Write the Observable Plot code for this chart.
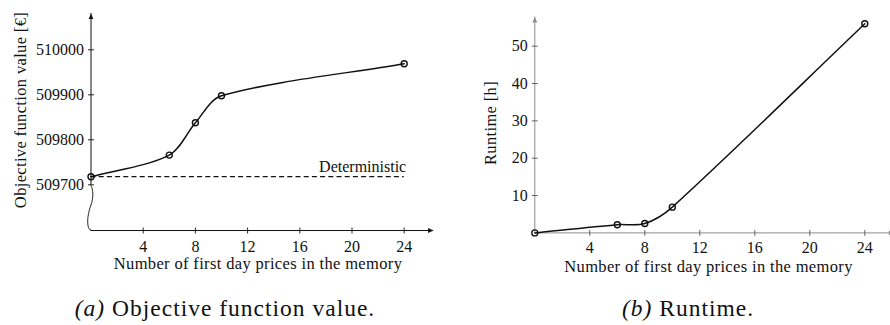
<!DOCTYPE html>
<html>
<head>
<meta charset="utf-8">
<script src="https://cdn.jsdelivr.net/npm/d3@7"></script>
<script src="https://cdn.jsdelivr.net/npm/@observablehq/plot@0.6"></script>
<style>
  html, body { margin: 0; padding: 0; background: #fff; }
  #fig { position: relative; width: 890px; height: 325px; overflow: hidden; font-family: "Liberation Serif", serif; color: #111; }
  #fig svg { position: absolute; top: 0; font-family: "Liberation Serif", serif !important; }
  #fig svg text { font-family: "Liberation Serif", serif !important; }
  .cap { position: absolute; top: 295px; font-size: 23.5px; letter-spacing: 1px; white-space: nowrap; transform: translateX(-50%); }
  .cap i { font-style: italic; }
</style>
</head>
<body>
<div id="fig"></div>
<script>
// Number of first-day prices kept in memory
const memory = [0, 6, 8, 10, 24];
// Objective function value [€] per memory size
const objective = [509718, 509766, 509838, 509898, 509969];
// Objective value of the deterministic model
const deterministic = 509718;
// Runtime [h] per memory size
const runtime = [0, 2.2, 2.5, 6.9, 56.0];

const xTicks = [4, 8, 12, 16, 20, 24];
const objTicks = [509700, 509800, 509900, 510000];
const runTicks = [10, 20, 30, 40, 50];

const xLabel = "Number of first day prices in the memory";
const objLabel = "Objective function value [€]";
const runLabel = "Runtime [h]";
const detLabel = "Deterministic";

const FONT = "Liberation Serif";
const txt = {fontSize: 16, fill: "#111", fontFamily: FONT};
const lbl = {fontSize: 16.5, fill: "#111", fontFamily: FONT, textAnchor: "middle", lineAnchor: "middle"};

// Smooth curve: tangent at each point parallel to its neighbours' chord,
// control handles proportional to the length of the adjacent segment
function smoothCurve(k = 0.3) {
  return (context) => {
    let pts = [];
    return {
      areaStart() {}, areaEnd() {},
      lineStart() { pts = []; },
      point(x, y) { pts.push([+x, +y]); },
      lineEnd() {
        const n = pts.length;
        if (!n) return;
        context.moveTo(pts[0][0], pts[0][1]);
        const dir = (i) => {
          const a = pts[Math.max(0, i - 1)], b = pts[Math.min(n - 1, i + 1)];
          const dx = b[0] - a[0], dy = b[1] - a[1], L = Math.hypot(dx, dy) || 1;
          return [dx / L, dy / L];
        };
        for (let i = 0; i < n - 1; i++) {
          const p = pts[i], q = pts[i + 1];
          const L = Math.hypot(q[0] - p[0], q[1] - p[1]);
          const d0 = dir(i), d1 = dir(i + 1);
          context.bezierCurveTo(
            p[0] + d0[0] * k * L, p[1] + d0[1] * k * L,
            q[0] - d1[0] * k * L, q[1] - d1[1] * k * L,
            q[0], q[1]);
        }
      }
    };
  };
}

// Custom symbols: axis ticks crossing the axis line and filled arrow heads
const tickV = {draw(ctx) { ctx.moveTo(0, -3); ctx.lineTo(0, 3); }};
const tickH = {draw(ctx) { ctx.moveTo(-3, 0); ctx.lineTo(3, 0); }};
const head = {draw(ctx) { ctx.moveTo(0, 0); ctx.lineTo(2.4, 5.5); ctx.lineTo(-2.4, 5.5); ctx.closePath(); }};

// Wavy axis break drawn between two y values on the y axis
function axisBreak(yFrom, yTo, color) {
  return (index, scales) => {
    const X = scales.x(0), a = scales.y(yFrom), b = scales.y(yTo);
    const h = b - a;
    const p = d3.path();
    p.moveTo(X, a);
    p.bezierCurveTo(X + 3, a + h * 0.12, X + 3, a + h * 0.3, X + 0.5, a + h * 0.45);
    p.bezierCurveTo(X - 2, a + h * 0.6, X - 4, a + h * 0.8, X - 2, a + h * 0.95);
    p.quadraticCurveTo(X - 1, b, X + 0.5, b);
    return d3.create("svg:path")
      .attr("d", p.toString())
      .attr("fill", "none")
      .attr("stroke", color)
      .attr("stroke-width", 0.9)
      .node();
  };
}

function axes({yBase, yTop, xEnd, yTicks, axisColor, tickColor, breakFrom}) {
  const marks = [];
  // x axis line with arrow
  marks.push(Plot.ruleY([yBase], {x1: 0, x2: xEnd, stroke: axisColor, strokeWidth: 1}));
  marks.push(Plot.dot([xEnd], {x: d => d, y: yBase, symbol: head, rotate: 90, fill: axisColor, stroke: "none"}));
  // y axis line with arrow
  marks.push(Plot.ruleX([0], {y1: breakFrom ?? yBase, y2: yTop, stroke: axisColor, strokeWidth: 1}));
  marks.push(Plot.dot([yTop], {x: 0, y: d => d, symbol: head, fill: axisColor, stroke: "none"}));
  if (breakFrom != null) marks.push(axisBreak(breakFrom, yBase, axisColor));
  // ticks
  marks.push(Plot.dot(xTicks, {x: d => d, y: yBase, symbol: tickV, stroke: tickColor, strokeWidth: 0.9, fill: "none"}));
  marks.push(Plot.dot(yTicks, {x: 0, y: d => d, symbol: tickH, stroke: tickColor, strokeWidth: 0.9, fill: "none"}));
  return marks;
}

// (a) Objective function value
const objPlot = Plot.plot({
  width: 445,
  height: 285,
  marginLeft: 90, marginRight: 12, marginTop: 13, marginBottom: 55,
  style: {fontFamily: FONT, background: "transparent"},
  x: {domain: [0, 24], range: [90.5, 403.7], axis: null},
  y: {domain: [509700, 510000], range: [184.3, 49.3], axis: null},
  marks: [
    ...axes({yBase: 509598.4, yTop: 510080.7, xEnd: 26.25, yTicks: objTicks, axisColor: "#111", tickColor: "#111", breakFrom: 509700}),
    Plot.text(objTicks, {x: 0, y: d => d, text: d => String(d), textAnchor: "end", dx: -7, ...txt}),
    Plot.text(xTicks, {x: d => d, y: 509598.4, text: d => String(d), dy: 16, ...txt}),
    Plot.text([xLabel], {frameAnchor: "bottom", dx: -4, dy: 33, ...lbl}),
    Plot.text([objLabel], {frameAnchor: "left", rotate: -90, dx: -70, dy: -12, ...lbl}),
    Plot.ruleY([deterministic], {x1: 0, x2: 24, stroke: "#111", strokeWidth: 1.3, strokeDasharray: "5,3.2"}),
    Plot.text([detLabel], {x: 24, y: deterministic, text: d => d, textAnchor: "end", dx: 2, dy: -10, ...txt}),
    Plot.line(memory, {x: d => d, y: (d, i) => objective[i], curve: smoothCurve(0.3), stroke: "#111", strokeWidth: 1.5}),
    Plot.dot(memory, {x: d => d, y: (d, i) => objective[i], r: 3, stroke: "#111", strokeWidth: 1.4, fill: "none"})
  ]
});

// (b) Runtime
const runPlot = Plot.plot({
  width: 445,
  height: 285,
  marginLeft: 89, marginRight: 0, marginTop: 17, marginBottom: 53,
  style: {fontFamily: FONT, background: "transparent"},
  x: {domain: [0, 24], range: [89.3, 419.3], axis: null},
  y: {domain: [0, 50], range: [232.4, 45.7], axis: null},
  marks: [
    ...axes({yBase: 0, yTop: 57.8, xEnd: 26.15, yTicks: runTicks, axisColor: "#8c8c8c", tickColor: "#555"}),
    Plot.text(runTicks, {x: 0, y: d => d, text: d => String(d), textAnchor: "end", dx: -7, ...txt}),
    Plot.text(xTicks, {x: d => d, y: 0, text: d => String(d), dy: 15, ...txt}),
    Plot.text([xLabel], {frameAnchor: "bottom", dx: -4, dy: 34, ...lbl}),
    Plot.text([runLabel], {frameAnchor: "left", rotate: -90, dx: -44, dy: -2, ...lbl}),
    Plot.line(memory, {x: d => d, y: (d, i) => runtime[i], curve: smoothCurve(0.3), stroke: "#111", strokeWidth: 1.5}),
    Plot.dot(memory, {x: d => d, y: (d, i) => runtime[i], r: 3, stroke: "#111", strokeWidth: 1.4, fill: "none"})
  ]
});

// Slightly wider tracking for the axis titles
for (const svg of [objPlot, runPlot]) {
  d3.select(svg).selectAll("text")
    .filter(function() { return [xLabel, objLabel, runLabel].includes(this.textContent); })
    .style("letter-spacing", "0.35px");
}

const fig = document.getElementById("fig");
objPlot.style.left = "0px";
runPlot.style.left = "445px";
fig.appendChild(objPlot);
fig.appendChild(runPlot);

const capA = document.createElement("div");
capA.className = "cap";
capA.style.left = "225px";
capA.innerHTML = "<i>(a)</i> Objective function value.";
const capB = document.createElement("div");
capB.className = "cap";
capB.style.left = "688px";
capB.innerHTML = "<i>(b)</i> Runtime.";
fig.appendChild(capA);
fig.appendChild(capB);
</script>
</body>
</html>
